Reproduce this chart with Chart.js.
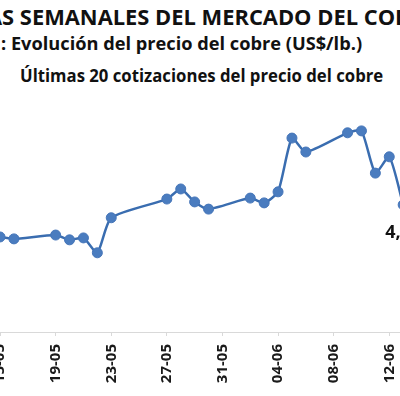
<!DOCTYPE html>
<html lang="es">
<head>
<meta charset="UTF-8">
<title>Precio del cobre</title>
<script src="https://cdn.jsdelivr.net/npm/chart.js@4.4.1/dist/chart.umd.min.js"></script>
<style>
  html, body { margin: 0; padding: 0; background: #fff; }
  body { width: 400px; height: 396px; overflow: hidden; position: relative; }
  .titulo { position: absolute; white-space: nowrap; color: #111; font-weight: bold; line-height: 1;
    font-family: "Open Sans", sans-serif; transform-origin: 0 0; }
  #titulo1 { left: -13px; top: 7px; font-size: 21px; }
  #titulo2 { left: 1px; top: 35px; font-size: 17px; }
  #titulo3 { left: 20px; top: 67px; font-size: 17px; }
  #grafica { position: absolute; left: -40px; top: 0; }
</style>
</head>
<body>
<div class="titulo" id="titulo1">AS SEMANALES DEL MERCADO DEL COBRE</div>
<div class="titulo" id="titulo2">: Evolución del precio del cobre (US$/lb.)</div>
<div class="titulo" id="titulo3">Últimas 20 cotizaciones del precio del cobre</div>
<canvas id="grafica" width="480" height="396"></canvas>
<script>
// ===============================
// DATOS
// ===============================
const fechas = ["15-05", "16-05", "19-05", "20-05", "21-05", "22-05", "23-05",
  "27-05", "28-05", "29-05", "30-05", "02-06", "03-06", "04-06", "05-06",
  "06-06", "09-06", "10-06", "11-06", "12-06", "13-06"];
const precios = [4.198, 4.194, 4.202, 4.192, 4.196, 4.165, 4.238,
  4.277, 4.298, 4.271, 4.256, 4.279, 4.269, 4.292, 4.404,
  4.375, 4.415, 4.419, 4.331, 4.365, 4.265];
const etiquetasEje = ["15-05", "19-05", "23-05", "27-05", "31-05", "04-06", "08-06", "12-06"];

const ANIO = 2025;

// ===============================
// TITULOS (ajuste de ancho)
// ===============================
function ajustarAncho(id, ancho) {
  const el = document.getElementById(id);
  el.style.transform = "scaleX(" + (ancho / el.scrollWidth) + ")";
}
ajustarAncho("titulo1", 449);
ajustarAncho("titulo2", 361);
ajustarAncho("titulo3", 363);

// ===============================
// FECHAS -> DIAS
// ===============================
function diaDesdeInicio(txt) {
  const [d, m] = txt.split("-").map(Number);
  const [d0, m0] = fechas[0].split("-").map(Number);
  return Math.round((Date.UTC(ANIO, m - 1, d) - Date.UTC(ANIO, m0 - 1, d0)) / 86400000);
}

const puntos = fechas.map((f, i) => ({ x: diaDesdeInicio(f), y: precios[i] }));

// ===============================
// ETIQUETA DEL ULTIMO VALOR
// ===============================
const etiquetaFinal = {
  id: "etiquetaFinal",
  afterDatasetsDraw(chart) {
    const meta = chart.getDatasetMeta(0);
    const ultimo = meta.data[meta.data.length - 1];
    const valor = precios[precios.length - 1];
    const ctx = chart.ctx;
    ctx.save();
    ctx.font = "bold 18px 'Open Sans'";
    ctx.fillStyle = "#111";
    ctx.textAlign = "center";
    ctx.textBaseline = "middle";
    ctx.fillText(valor.toFixed(2).replace(".", ","), ultimo.x, ultimo.y + 28);
    ctx.restore();
  }
};

// ===============================
// GRAFICA
// ===============================
const ctx = document.getElementById("grafica").getContext("2d");

new Chart(ctx, {
  type: "line",
  data: {
    datasets: [{
      label: "Precio del cobre",
      data: puntos,
      borderColor: "#3a6db0",
      borderWidth: 2.5,
      tension: 0.2,
      pointRadius: 5,
      pointBackgroundColor: "#4a7cbf",
      pointBorderColor: "#4575b8",
      pointBorderWidth: 1
    }]
  },
  options: {
    responsive: false,
    animation: false,
    layout: { autoPadding: false, padding: { top: 92, left: 0, right: 0, bottom: 0 } },
    plugins: {
      legend: { display: false },
      tooltip: { enabled: false }
    },
    scales: {
      x: {
        type: "linear",
        min: -2.88,
        max: 31.65,
        afterBuildTicks: (eje) => {
          eje.ticks = etiquetasEje.map(t => ({ value: diaDesdeInicio(t) }));
        },
        afterFit: (eje) => { eje.height = 64; },
        grid: { drawOnChartArea: false, tickLength: 4, tickColor: "#d9d9d9" },
        border: { display: true, color: "#d9d9d9", width: 1 },
        ticks: {
          autoSkip: false,
          minRotation: 90,
          maxRotation: 90,
          padding: 8,
          color: "#1a1a1a",
          font: { family: "'Open Sans'", size: 15, weight: "bold" },
          callback: (valor, i) => etiquetasEje[i]
        }
      },
      y: {
        display: false,
        min: 4.0,
        max: 4.5
      }
    }
  },
  plugins: [etiquetaFinal]
});
</script>
</body>
</html>
